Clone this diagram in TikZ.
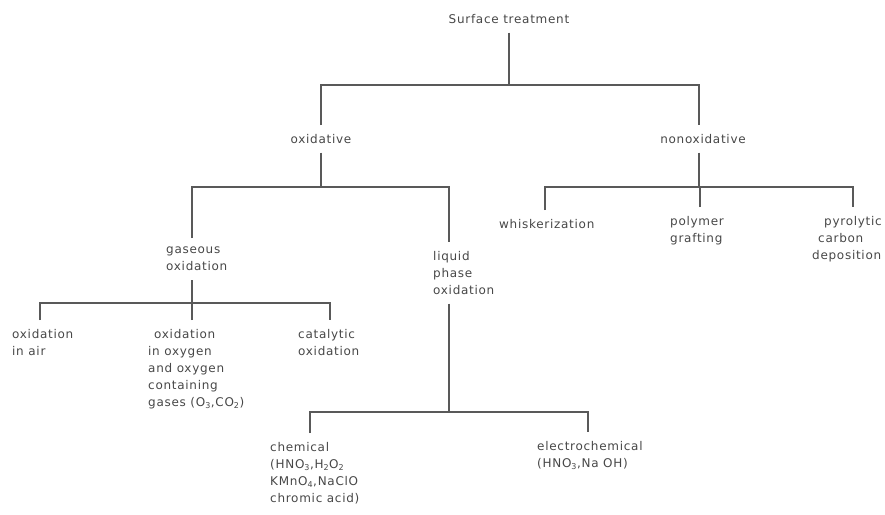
\documentclass[tikz,border=0pt]{standalone}
\usepackage{fontspec}
\setmainfont{DejaVu Sans}[LetterSpace=6]
\usepackage{tikz}
\usetikzlibrary{calc}

\begin{document}
\begin{tikzpicture}[x=1pt, y=-1pt,
		branch/.style={line width=0.5mm, color=black!65},
		lbl/.style={inner xsep=0pt, inner ysep=9pt, align=left, text=black!72, font=\fontsize{12}{17}\selectfont}]
		%%%%% START %%%%%
		\useasboundingbox (0, 0) rectangle (885, 514);
		
		\coordinate (bar1) at (0, 85);
		\coordinate (bar2) at (0, 187);
		\coordinate (bar3) at (0, 303);
		\coordinate (bar4) at (0, 412);
		\coordinate (bar5) at (0, 187);
		
		\node[lbl, anchor=north] (root) at (509, 5) {Surface treatment};
		
		\node[lbl, anchor=north] (oxid) at (321, 125) {oxidative};
		\node[lbl, anchor=north] (nonox) at (703, 125) {nonoxidative};
		
		\node[lbl, anchor=north west] (gas) at (166, 238) {gaseous\\oxidation};
		\node[lbl, anchor=north west] (liq) at (433, 242) {liquid\\phase\\oxidation};
		
		\node[lbl, anchor=north west] (air) at (12, 320) {oxidation\\in air};
		\node[lbl, anchor=north west] (oxy) at (148, 320) {\hspace{6pt}oxidation\\in oxygen\\and oxygen\\containing\\gases (O\textsubscript{3},CO\textsubscript{2})};
		\node[lbl, anchor=north west] (cat) at (298, 320) {catalytic\\oxidation};
		
		\node[lbl, anchor=north west] (chem) at (270, 433) {chemical\\(HNO\textsubscript{3},H\textsubscript{2}O\textsubscript{2}\\KMnO\textsubscript{4},NaClO\\chromic acid)};
		\node[lbl, anchor=north west] (elec) at (537, 432) {electrochemical\\(HNO\textsubscript{3},Na OH)};
		
		\node[lbl, anchor=north west] (whisk) at (499, 210) {whiskerization};
		\node[lbl, anchor=north west] (poly) at (670, 207) {polymer\\grafting};
		\node[lbl, anchor=north west] (pyro) at (812, 207) {\hspace{12pt}pyrolytic\\\hspace{6pt}carbon\\deposition};
		
		% top level
		\draw[branch] (root.south) -- (root.south |- bar1);
		\draw[branch] (oxid.north) |- ([xshift=-4pt]nonox.north |- bar1) -- ([xshift=-4pt]nonox.north);
		
		% oxidative
		\draw[branch] (oxid.south) -- (oxid.south |- bar2);
		\draw[branch] ([xshift=26pt]gas.north west) |- ([xshift=16pt]liq.north west |- bar2) -- ([xshift=16pt]liq.north west);
		
		% gaseous
		\draw[branch] ([xshift=26pt]gas.south west) -- ([xshift=26pt]gas.south west |- bar3);
		\draw[branch] ([xshift=28pt]air.north west) |- ([xshift=32pt]cat.north west |- bar3) -- ([xshift=32pt]cat.north west);
		\draw[branch] ([xshift=44pt]oxy.north west) -- ([xshift=44pt]oxy.north west |- bar3);
		
		% liquid phase
		\draw[branch] ([xshift=16pt]liq.south west) -- ([xshift=16pt]liq.south west |- bar4);
		\draw[branch] ([xshift=40pt]chem.north west) |- ([xshift=51pt]elec.north west |- bar4) -- ([xshift=51pt]elec.north west);
		
		% nonoxidative
		\draw[branch] ([xshift=-4pt]nonox.south) -- ([xshift=-4pt]nonox.south |- bar5);
		\draw[branch] ([xshift=46pt]whisk.north west) |- ([xshift=41pt]pyro.north west |- bar5) -- ([xshift=41pt]pyro.north west);
		\draw[branch] ([xshift=30pt]poly.north west) -- ([xshift=30pt]poly.north west |- bar5);
		
		%%%%% END %%%%%
\end{tikzpicture}
\end{document}
